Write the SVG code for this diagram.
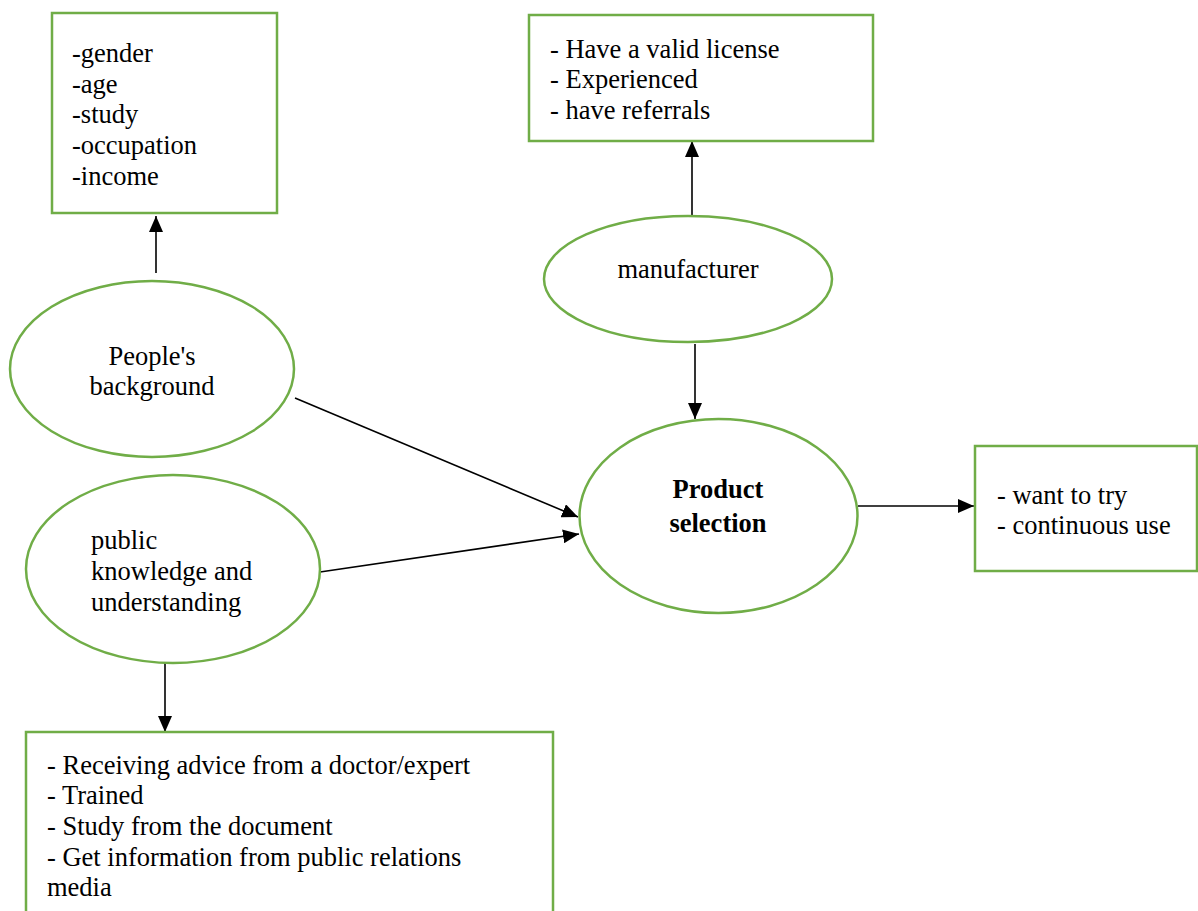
<svg xmlns="http://www.w3.org/2000/svg" width="1198" height="911" viewBox="0 0 1198 911">
<style>
.box{fill:#fff;stroke:#70AD47;stroke-width:2.5}
.ell{fill:#fff;stroke:#70AD47;stroke-width:2.5}
text{font-family:"Liberation Serif","Times New Roman",serif;font-size:26.5px;fill:#000}
.b{font-weight:bold}
.c{text-anchor:middle}
.con{stroke:#000;stroke-width:1.6;fill:none;marker-end:url(#ah)}
</style>
<defs>
<marker id="ah" markerUnits="userSpaceOnUse" markerWidth="18" markerHeight="14" refX="16" refY="7" orient="auto">
<path d="M0,0 L16,7 L0,14 Z" fill="#000"/>
</marker>
</defs>
<rect width="1198" height="911" fill="#fff"/>
<g id="connectors">
<line class="con" x1="156" y1="273" x2="156" y2="216"/>
<line class="con" x1="692" y1="216" x2="692" y2="141"/>
<line class="con" x1="695" y1="344" x2="695" y2="419"/>
<line class="con" x1="295" y1="398" x2="578" y2="517"/>
<line class="con" x1="320" y1="572" x2="579" y2="534"/>
<line class="con" x1="858" y1="506" x2="974" y2="506"/>
<line class="con" x1="165" y1="663" x2="165" y2="732"/>
</g>
<g id="box-demographics">
<rect class="box" x="52" y="13" width="225" height="200"/>
<text x="72" y="62">-gender</text>
<text x="72" y="93">-age</text>
<text x="72" y="123">-study</text>
<text x="72" y="154">-occupation</text>
<text x="72" y="185">-income</text>
</g>
<g id="box-manufacturer-criteria">
<rect class="box" x="529" y="15" width="344" height="126"/>
<text x="550" y="58">- Have a valid license</text>
<text x="550" y="88">- Experienced</text>
<text x="550" y="119">- have referrals</text>
</g>
<g id="node-manufacturer">
<ellipse class="ell" cx="688" cy="279" rx="144" ry="63"/>
<text class="c" x="688" y="278">manufacturer</text>
</g>
<g id="node-people">
<ellipse class="ell" cx="152" cy="369" rx="142" ry="88"/>
<text class="c" x="152" y="365">People's</text>
<text class="c" x="152" y="395">background</text>
</g>
<g id="node-public">
<ellipse class="ell" cx="173" cy="569" rx="147" ry="94"/>
<text x="91" y="549">public</text>
<text x="91" y="580">knowledge and</text>
<text x="91" y="611">understanding</text>
</g>
<g id="node-product">
<ellipse class="ell" cx="718.5" cy="516" rx="139" ry="97"/>
<text class="c b" x="718" y="498">Product</text>
<text class="c b" x="718" y="532">selection</text>
</g>
<g id="box-outcome">
<rect class="box" x="975" y="446" width="222" height="125"/>
<text x="997" y="504">- want to try</text>
<text x="997" y="534">- continuous use</text>
</g>
<g id="box-knowledge">
<rect class="box" x="26" y="732" width="527" height="190"/>
<text x="47" y="774">- Receiving advice from a doctor/expert</text>
<text x="47" y="804">- Trained</text>
<text x="47" y="835">- Study from the document</text>
<text x="47" y="866">- Get information from public relations</text>
<text x="47" y="896">media</text>
</g>
</svg>
